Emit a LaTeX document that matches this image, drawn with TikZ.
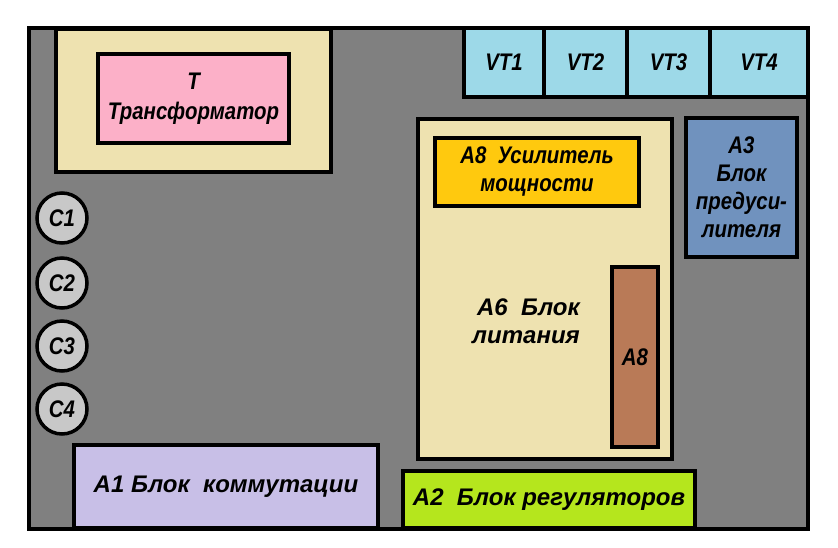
\documentclass[tikz,border=0pt]{standalone}
\usepackage{fontspec}
\newfontfamily\gost{Liberation Sans}[FakeStretch=0.85]
\newfontfamily\gostwide{Liberation Sans}
\begin{document}
\begin{tikzpicture}[x=1pt,y=-1pt,
  every node/.style={font=\gost\bfseries\itshape\fontsize{24}{28}\selectfont},
  wide/.style={font=\gostwide\bfseries\itshape\fontsize{24}{28}\selectfont},
  box/.style={draw=black, line width=3.5pt, rectangle, inner sep=0pt, align=center},
  capnode/.style={circle, draw=black, line width=3.5pt, fill=capgray, minimum size=50pt, inner sep=0pt},
  txt/.style={inner sep=0pt}
]
\definecolor{framegray}{RGB}{128,128,128}
\definecolor{beige}{RGB}{238,226,176}
\definecolor{pinkc}{RGB}{252,176,200}
\definecolor{vtblue}{RGB}{157,217,232}
\definecolor{orangec}{RGB}{255,201,14}
\definecolor{a3blue}{RGB}{112,146,190}
\definecolor{brownc}{RGB}{185,122,87}
\definecolor{lav}{RGB}{200,191,231}
\definecolor{lime}{RGB}{181,230,29}
\definecolor{capgray}{RGB}{200,200,200}
\useasboundingbox (0,0) rectangle (838,547);
% frame
\node[box, fill=framegray, minimum width=779pt, minimum height=501pt] (frame) at (418.5,278.5) {};
% transformer
\node[box, fill=beige, minimum width=275pt, minimum height=143pt] (trbase) at (193.5,100.5) {};
\node[box, fill=pinkc, minimum width=191pt, minimum height=89pt] (tr) at (193.5,98.5) {T\\[2pt]Трансформатор};
% VT
\node[box, fill=vtblue, minimum width=80pt, minimum height=69pt] (vt1) at (504,62.5) {VT1};
\node[box, fill=vtblue, minimum width=83pt, minimum height=69pt] (vt2) at (585.5,62.5) {VT2};
\node[box, fill=vtblue, minimum width=83pt, minimum height=69pt] (vt3) at (668.5,62.5) {VT3};
\node[box, fill=vtblue, minimum width=98pt, minimum height=69pt] (vt4) at (759,62.5) {VT4};
% A6
\node[box, fill=beige, minimum width=254pt, minimum height=340pt] (a6) at (545,289) {};
\node[txt, wide, align=right, anchor=east] (a6t) at (580,321) {A6\ \ Блок\\литания};
% A8 amplifier
\node[box, fill=orangec, minimum width=204pt, minimum height=68pt] (a8) at (537,172) {A8\ \ Усилитель\\мощности};
% A8 small
\node[box, fill=brownc, minimum width=46pt, minimum height=180pt] (a8s) at (635,357) {A8};
% A3
\node[box, fill=a3blue, minimum width=111pt, minimum height=139pt] (a3) at (741.5,187.5) {A3\\Блок\\предуси-\\лителя};
% A1
\node[box, wide, fill=lav, minimum width=304pt, minimum height=83pt] (a1) at (226,486.5) {A1 Блок\ \ коммутации};
% A2
\node[box, wide, fill=lime, minimum width=292pt, minimum height=57pt] (a2) at (549,499.5) {A2\ \ Блок регуляторов};
% capacitors
\node[capnode] (c1) at (62,218) {C1};
\node[capnode] (c2) at (62,283) {C2};
\node[capnode] (c3) at (62,346) {C3};
\node[capnode] (c4) at (62,409) {C4};
\end{tikzpicture}
\end{document}
